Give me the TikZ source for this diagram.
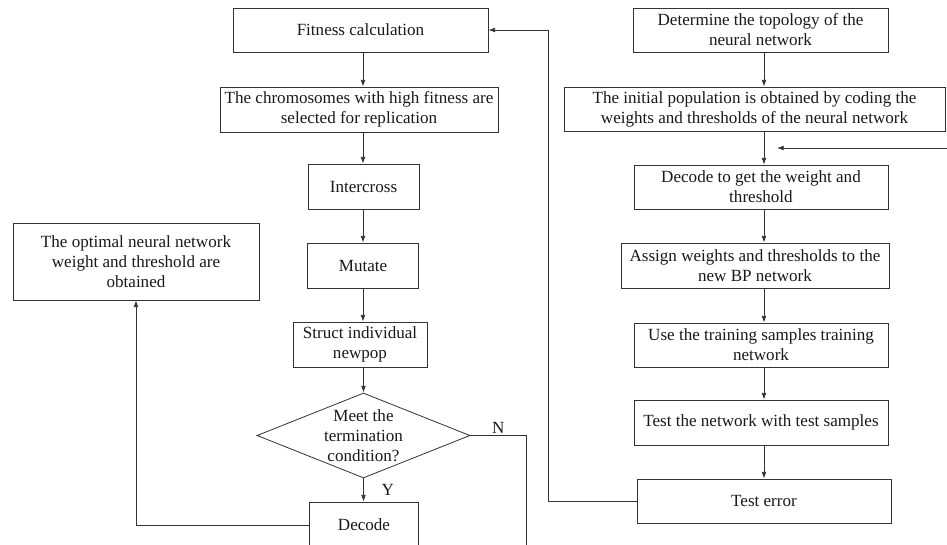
\documentclass[tikz,border=0pt]{standalone}
\usepackage{fontspec}
\setmainfont{Liberation Serif}
\usetikzlibrary{arrows.meta,shapes.geometric}

\newcommand{\pxu}{0.75pt}
\tikzset{
  box/.style={draw=black!80,line width=0.6pt,align=center,inner sep=0pt,
    text=black!90,font=\fontsize{12.8}{15}\selectfont},
  flow/.style={draw=black!80,line width=0.6pt,-{Latex[length=5pt,width=3.6pt]}},
  link/.style={draw=black!80,line width=0.6pt},
  mark label/.style={text=black!90,font=\fontsize{12.8}{15}\selectfont},
}

\begin{document}
\begin{tikzpicture}[x=0.75pt,y=-0.75pt]
  \clip (0,0) rectangle (947,545);
  %
  \coordinate (colL) at (363,0);
  \coordinate (colR) at (764,0);
  % genetic loop
  \node[box,minimum width=255*\pxu,minimum height=44*\pxu] (fit) at (360.5,30) {Fitness calculation};
  \node[box,minimum width=278*\pxu,minimum height=45*\pxu] (chrom) at (359,109.5) {The chromosomes with high fitness are\\selected for replication};
  \node[box,minimum width=111*\pxu,minimum height=45*\pxu] (inter) at (363.5,186.5) {Intercross};
  \node[box,minimum width=111*\pxu,minimum height=45*\pxu] (mut) at (363,265.5) {Mutate};
  \node[box,minimum width=134*\pxu,minimum height=45*\pxu] (newpop) at (360,344.5) {Struct individual\\newpop};
  \node[draw=black!80,line width=0.6pt,diamond,inner sep=0pt,minimum width=213*\pxu,minimum height=85*\pxu,
    label={[mark label,align=center]center:Meet the\\termination\\condition?}] (cond) at (363.5,435.5) {};
  \node[box,minimum width=109*\pxu,minimum height=46*\pxu] (dec) at (364,525) {Decode};
  \node[box,minimum width=246*\pxu,minimum height=77*\pxu] (best) at (136,261.5) {The optimal neural network\\weight and threshold are\\obtained};
  % BP network
  \node[box,minimum width=255*\pxu,minimum height=44*\pxu] (topo) at (760.5,30) {Determine the topology of the\\neural network};
  \node[box,minimum width=381*\pxu,minimum height=44*\pxu] (init) at (754.5,109) {The initial population is obtained by coding the\\weights and thresholds of the neural network};
  \node[box,minimum width=254*\pxu,minimum height=44*\pxu] (decw) at (761,187) {Decode to get the weight and\\threshold};
  \node[box,minimum width=268*\pxu,minimum height=45*\pxu] (assign) at (755,265.5) {Assign weights and thresholds to the\\new BP network};
  \node[box,minimum width=254*\pxu,minimum height=44*\pxu] (train) at (761,345) {Use the training samples training\\network};
  \node[box,minimum width=254*\pxu,minimum height=45*\pxu] (testnet) at (761,422.5) {Test the network with test samples};
  \node[box,minimum width=254*\pxu,minimum height=44*\pxu] (testerr) at (764,501) {Test error};
  %
  \coordinate (back) at (548,501);
  \coordinate (nend) at (526,560);
  \coordinate (retin) at (947,148);
  \coordinate (retout) at (777,148);
  % left column
  \draw[flow] (fit.south -| colL) -- (chrom.north -| colL);
  \draw[flow] (chrom.south -| colL) -- (inter.north -| colL);
  \draw[flow] (inter.south -| colL) -- (mut.north -| colL);
  \draw[flow] (mut.south -| colL) -- (newpop.north -| colL);
  \draw[flow] (newpop.south -| cond) -- (cond.north);
  \draw[flow] (cond.south) -- node[mark label,right=10pt] {Y} (dec.north -| cond);
  \draw[link] (cond.east) -- node[mark label,above,inner sep=1.5pt] {N} (cond.east -| nend) -- (nend);
  \draw[flow] (dec.west) -| (best.south);
  % right column
  \draw[flow] (topo.south -| colR) -- (init.north -| colR);
  \draw[flow] (init.south -| colR) -- (decw.north -| colR);
  \draw[flow] (retin) -- (retout);
  \draw[flow] (decw.south -| colR) -- (assign.north -| colR);
  \draw[flow] (assign.south -| colR) -- (train.north -| colR);
  \draw[flow] (train.south -| colR) -- (testnet.north -| colR);
  \draw[flow] (testnet.south -| colR) -- (testerr.north -| colR);
  % back to fitness
  \draw[flow] (testerr.west) -- (back) |- (fit.east);
\end{tikzpicture}
\end{document}
